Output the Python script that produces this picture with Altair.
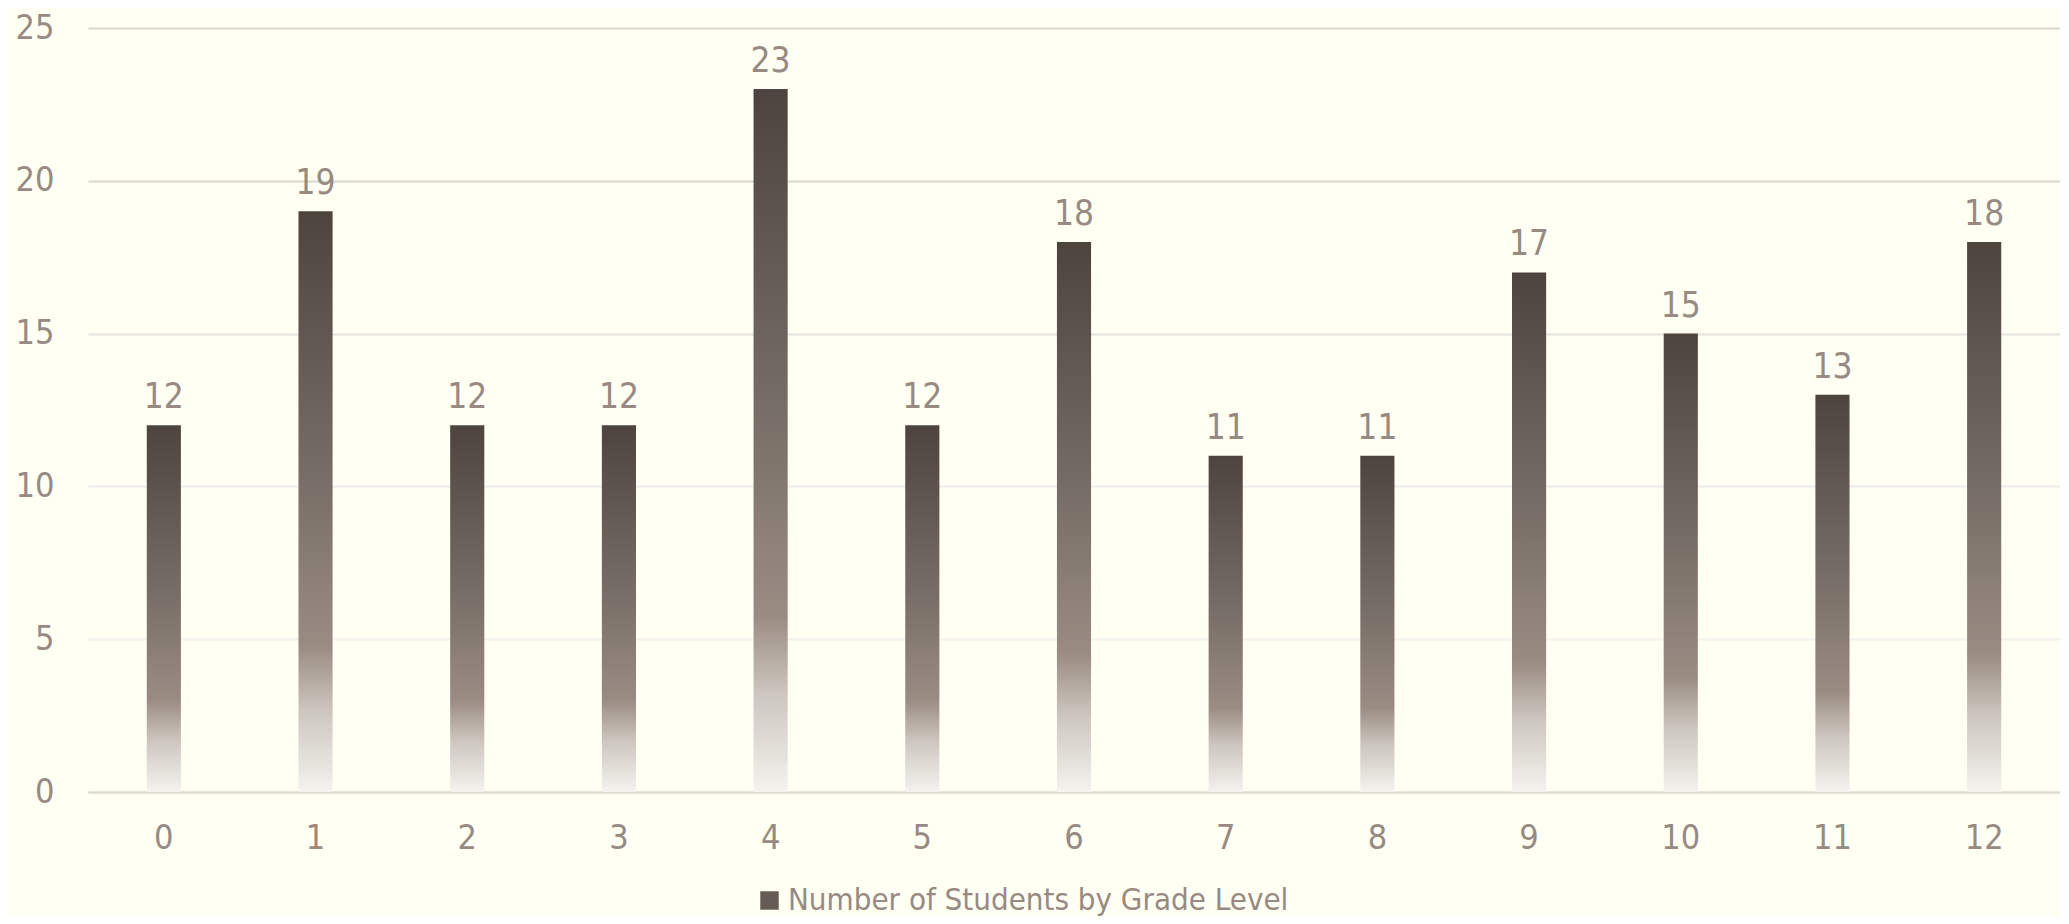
import altair as alt
import pandas as pd

# ---- data ----
grades = ["0", "1", "2", "3", "4", "5", "6", "7", "8", "9", "10", "11", "12"]
counts = [12, 19, 12, 12, 23, 12, 18, 11, 11, 17, 15, 13, 18]
series_name = "Number of Students by Grade Level"
y_ticks = [0, 5, 10, 15, 20, 25]

df = pd.DataFrame({"grade": grades, "count": counts, "series": [series_name] * len(grades)})

FONT = "Liberation Sans Narrow, DejaVu Sans Condensed, Noto Sans, sans-serif"
TXT = "#978a83"
BG = "#fffff4"

bar_gradient = alt.Gradient(
    gradient="linear", x1=0, y1=0, x2=0, y2=1,
    stops=[
        alt.GradientStop(offset=0.0, color="#4d443e"),
        alt.GradientStop(offset=0.45, color="#766d66"),
        alt.GradientStop(offset=0.75, color="#9a8c83"),
        alt.GradientStop(offset=0.86, color="#ccc6be"),
        alt.GradientStop(offset=1.0, color="#f4f3ee"),
    ],
)

grid_color = {
    "condition": [
        {"test": "datum.value >= 20", "value": "#d8d8d0"},
        {"test": "datum.value >= 15", "value": "#e4e4dd"},
        {"test": "datum.value >= 10", "value": "#ededE7"},
        {"test": "datum.value > 0", "value": "#f2f2ee"},
    ],
    "value": "#dedfd8",
}

x_enc = alt.X(
    "grade:N", sort=grades,
    scale=alt.Scale(paddingInner=0.775, paddingOuter=0.3875),
    axis=alt.Axis(
        title=None, labelAngle=0, labelFont=FONT, labelFontSize=34, labelColor=TXT,
        labelPadding=29, ticks=False, domainColor="#dcdcd5", domainWidth=2, grid=False,
    ),
)
y_enc = alt.Y(
    "count:Q", scale=alt.Scale(domain=[0, 25], nice=False),
    axis=alt.Axis(
        title=None, values=y_ticks, ticks=False, domain=False, labelFont=FONT,
        labelFontSize=34, labelColor=TXT, labelPadding=34, gridColor=grid_color, gridWidth=2,
    ),
)

base = alt.Chart(df)

legend_layer = base.mark_bar(opacity=0).encode(
    x=x_enc, y=y_enc,
    color=alt.Color(
        "series:N", scale=alt.Scale(range=["#655c56"]),
        legend=alt.Legend(
            title=None, orient="none", legendX=666, legendY=857, symbolType="square",
            symbolSize=340, symbolOpacity=1, symbolStrokeWidth=0, labelFont=FONT,
            labelFontSize=31, labelColor=TXT, labelLimit=0, labelOffset=3,
        ),
    ),
)

bars = base.mark_bar(color=bar_gradient).encode(x=x_enc, y=y_enc)

labels = base.mark_text(
    baseline="bottom", dy=-10, font=FONT, fontSize=35, color=TXT
).encode(x=x_enc, y=y_enc, text="count:Q")

chart = (
    alt.layer(legend_layer, bars, labels)
    .properties(width=1972, height=764, background=BG,
                padding={"left": 7, "top": 3, "right": 0, "bottom": 0})
    .configure_view(stroke=None)
)

chart.save("out.html", embed_options={"renderer": "svg", "actions": False})
